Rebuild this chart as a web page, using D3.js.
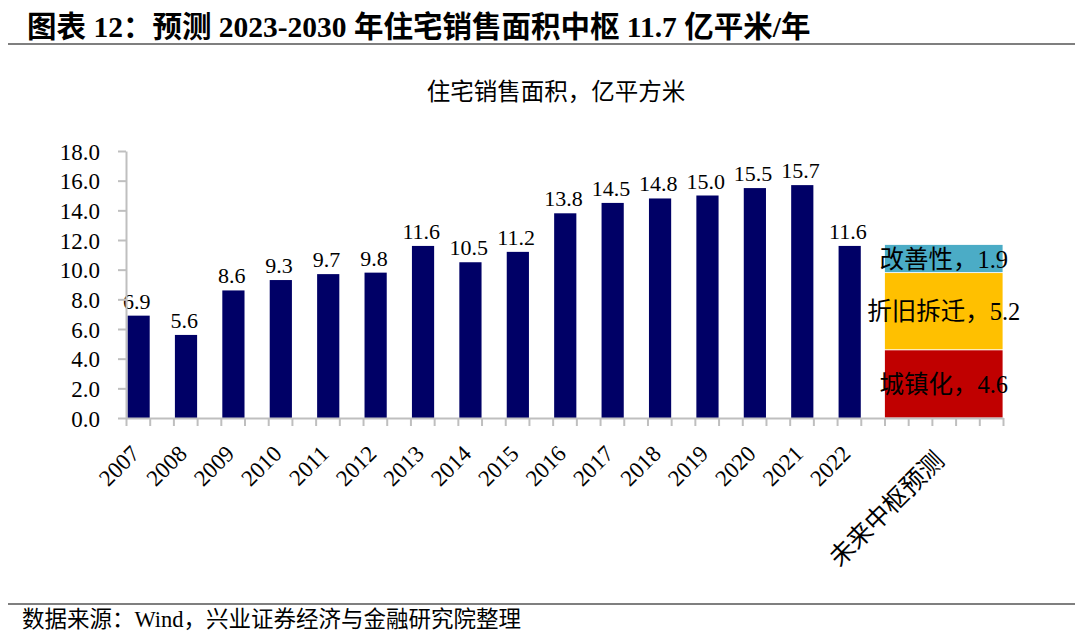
<!DOCTYPE html>
<html><head><meta charset="utf-8">
<script src="https://cdn.jsdelivr.net/npm/d3@7"></script>
<style>
html,body{margin:0;padding:0;background:#fff;}
svg{display:block;}
text{font-family:"Liberation Serif","Noto Sans CJK SC",serif;fill:#000;}
</style></head>
<body>
<svg id="c" width="1080" height="633"></svg>
<script>
const years = ["2007","2008","2009","2010","2011","2012","2013","2014","2015","2016","2017","2018","2019","2020","2021","2022"];
const sales = [6.9,5.6,8.6,9.3,9.7,9.8,11.6,10.5,11.2,13.8,14.5,14.8,15.0,15.5,15.7,11.6];
const forecastLabel = "未来中枢预测";
const segNames = ["城镇化","折旧拆迁","改善性"];
const segValues = [4.6,5.2,1.9];
const segColors = ["#C00000","#FFC000","#4BACC6"];
const yTicks = [0,2,4,6,8,10,12,14,16,18];

const svg = d3.select("#c");

// title
svg.append("text").attr("x",27).attr("y",37).attr("font-size",29.5).attr("font-weight","bold")
  .text("图表 12：预测 2023-2030 年住宅销售面积中枢 11.7 亿平米/年");
svg.append("line").attr("x1",8).attr("x2",1075).attr("y1",44).attr("y2",44).attr("stroke","#7F7F7F").attr("stroke-width",2);
svg.append("text").attr("x",556).attr("y",100).attr("text-anchor","middle").attr("font-size",23.5)
  .text("住宅销售面积，亿平方米");
// footer
svg.append("line").attr("x1",8).attr("x2",1075).attr("y1",604).attr("y2",604).attr("stroke","#7F7F7F").attr("stroke-width",2);
svg.append("text").attr("x",22).attr("y",627).attr("font-size",22.5)
  .text("数据来源：Wind，兴业证券经济与金融研究院整理");

const nSlots = years.length*2 + 5;
const x = d3.scaleLinear().domain([0,nSlots]).range([126,1003]);
const y = d3.scaleLinear().domain([0,18]).range([418,151]);

// bars
svg.selectAll("rect.bar").data(sales).join("rect").attr("class","bar")
  .attr("x",(d,i)=>x(2*i)+1.5).attr("width",(d,i)=>x(2*i+1)-x(2*i)-1.5)
  .attr("y",d=>y(d)).attr("height",d=>y(0)-y(d)).attr("fill","#000066");
svg.selectAll("text.val").data(sales).join("text").attr("class","val")
  .attr("x",(d,i)=>(x(2*i)+x(2*i+1))/2-1).attr("y",d=>y(d)-7)
  .attr("text-anchor","middle").attr("font-size",22).text(d=>d.toFixed(1));

// stacked forecast
let cum=0;
const stack = segValues.map((v,i)=>{const s={name:segNames[i],v,y0:cum,y1:cum+v,color:segColors[i]};cum+=v;return s;});
const fx0 = x(years.length*2), fx1 = x(nSlots);
svg.selectAll("rect.seg").data(stack).join("rect").attr("class","seg")
  .attr("x",fx0).attr("width",fx1-fx0).attr("y",d=>y(d.y1)).attr("height",d=>y(d.y0)-y(d.y1))
  .attr("fill",d=>d.color).attr("stroke","#fff").attr("stroke-width",0.8);
svg.selectAll("text.seglab").data(stack).join("text").attr("class","seglab")
  .attr("x",(fx0+fx1)/2).attr("y",d=>(y(d.y0)+y(d.y1))/2+9)
  .attr("text-anchor","middle").attr("font-size",24.5)
  .text(d=>d.name+"，"+d.v.toFixed(1));

// y axis
const ya = svg.append("g").attr("transform","translate(126,0)")
  .call(d3.axisLeft(y).tickValues(yTicks).tickFormat(d3.format(".1f")).tickSize(8).tickSizeOuter(0));
ya.select(".domain").attr("stroke","#BFBFBF").attr("stroke-width",2);
ya.selectAll(".tick line").attr("stroke","#BFBFBF").attr("stroke-width",2);
ya.selectAll(".tick text").attr("font-size",23).attr("x",-26).attr("dy","0.36em")
  .style("font-family","Liberation Serif");

// x axis
const xa = svg.append("g").attr("transform","translate(0,418)")
  .call(d3.axisBottom(x).tickValues(d3.range(0,nSlots+1)).tickFormat("").tickSize(8).tickSizeOuter(0));
xa.select(".domain").attr("stroke","#BFBFBF").attr("stroke-width",2);
xa.selectAll(".tick line").attr("stroke","#BFBFBF").attr("stroke-width",2);

const xlabels = years.map((yv,i)=>({t:yv,cx:(x(2*i)+x(2*i+1))/2,fs:23,dx:3,yy:455}));
xlabels.push({t:forecastLabel,cx:(fx0+fx1)/2,fs:25,dx:2,yy:462});
svg.selectAll("text.xl").data(xlabels).join("text").attr("class","xl")
  .attr("text-anchor","end").attr("font-size",d=>d.fs)
  .attr("transform",d=>`translate(${d.cx+d.dx},${d.yy}) rotate(-45)`)
  .text(d=>d.t);
</script>
</body></html>
